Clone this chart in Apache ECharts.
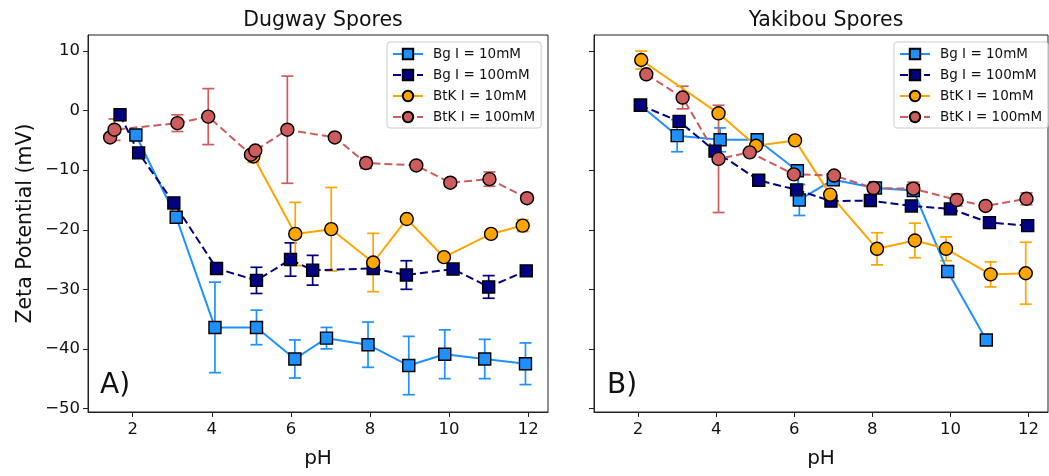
<!DOCTYPE html>
<html>
<head>
<meta charset="utf-8">
<script src="https://cdn.jsdelivr.net/npm/echarts@6/dist/echarts.min.js"></script>
<style>
  html, body { margin: 0; padding: 0; background: #fff; }
  #chart { width: 1049px; height: 476px; }
</style>
</head>
<body>
<div id="chart"></div>
<script>
  // Dugway spores (panel A)
  const pHBg10A = [2.08, 3.1, 4.08, 5.13, 6.1, 6.9, 7.95, 8.98, 9.89, 10.9, 11.93]
  const zetaBg10A = [-4.1, -17.9, -36.4, -36.4, -41.7, -38.2, -39.3, -42.8, -40.9, -41.7, -42.5]
  const errBg10A = [0.5, 0.5, 7.6, 2.9, 3.2, 1.8, 3.8, 4.9, 4.1, 3.3, 3.5]

  const pHBg100A = [1.68, 2.15, 3.04, 4.12, 5.13, 5.99, 6.55, 8.08, 8.92, 10.1, 11.0, 11.95]
  const zetaBg100A = [-0.7, -7.1, -15.5, -26.5, -28.5, -25.0, -26.8, -26.5, -27.6, -26.6, -29.6, -26.9]
  const errBg100A = [0.3, 0.5, 0.5, 0.6, 2.2, 2.8, 2.5, 0.8, 2.4, 0.5, 1.9, 0.6]

  const pHBtk10A = [5.05, 6.11, 7.02, 8.08, 8.93, 9.87, 11.06, 11.86]
  const zetaBtk10A = [-7.7, -20.7, -19.9, -25.5, -18.2, -24.6, -20.7, -19.3]
  const errBtk10A = [1.0, 5.3, 7.0, 4.9, 0.5, 0.5, 0.5, 1.0]

  const pHBtk100A = [1.43, 1.54, 3.13, 3.91, 4.99, 5.1, 5.91, 7.11, 7.9, 9.17, 10.03, 11.02, 11.97]
  const zetaBtk100A = [-4.5, -3.2, -2.1, -1.0, -7.4, -6.7, -3.2, -4.5, -8.8, -9.2, -12.1, -11.5, -14.7]
  const errBtk100A = [0.5, 1.8, 1.4, 4.7, 0.5, 0.5, 9.0, 0.5, 0.9, 0.5, 0.6, 1.2, 0.6]

  // Yakibou spores (panel B)
  const pHBg10B = [2.06, 3.0, 4.1, 5.05, 6.08, 6.13, 7.0, 8.08, 9.05, 9.93, 10.92]
  const zetaBg10B = [0.9, -4.2, -4.9, -4.9, -10.1, -15.0, -11.6, -13.0, -13.4, -27.0, -38.5]
  const errBg10B = [0.3, 2.7, 2.0, 1.0, 0.5, 2.6, 0.5, 0.5, 0.5, 0.3, 0.3]

  const pHBg100B = [2.06, 3.05, 3.97, 5.09, 6.06, 6.94, 7.95, 9.0, 10.0, 11.0, 11.98]
  const zetaBg100B = [0.9, -1.8, -6.8, -11.7, -13.3, -15.2, -15.1, -16.0, -16.5, -18.8, -19.3]
  const errBg100B = [0.3, 0.4, 0.4, 0.4, 0.4, 0.4, 0.4, 0.4, 0.4, 0.4, 0.4]

  const pHBtk10B = [2.08, 4.06, 5.02, 6.02, 6.92, 8.12, 9.09, 9.89, 11.03, 11.93]
  const zetaBtk10B = [8.5, -0.45, -5.9, -5.0, -14.1, -23.2, -21.8, -23.2, -27.5, -27.3]
  const errBtk10B = [1.5, 0.6, 0.6, 0.4, 0.6, 2.7, 2.9, 2.0, 2.1, 5.2]

  const pHBtk100B = [2.21, 3.14, 4.06, 4.86, 5.99, 7.02, 8.03, 9.05, 10.16, 10.9, 11.95]
  const zetaBtk100B = [6.1, 2.2, -8.1, -7.0, -10.7, -10.9, -13.0, -13.1, -15.0, -16.0, -14.8]
  const errBtk100B = [0.4, 1.9, 9.0, 0.5, 0.5, 0.5, 0.6, 1.1, 1.0, 0.5, 1.0]

  const xTicks = [2, 4, 6, 8, 10, 12]
  const yTicks = [-50, -40, -30, -20, -10, 0, 10]
  const seriesNames = ['Bg I = 10mM', 'Bg I = 100mM', 'BtK I = 10mM', 'BtK I = 100mM']

  const font = 'DejaVu Sans'
  const colors = ['#1E90FF', '#000080', '#FFA500', '#CD5C5C']
  const symbols = ['rect', 'rect', 'circle', 'circle']
  const dashed = [false, true, false, true]

  function errorSeries(idx, gi, xs, ys, es) {
    return {
      type: 'custom',
      name: seriesNames[idx] + ' err' + gi,
      xAxisIndex: gi,
      yAxisIndex: gi,
      silent: true,
      data: xs.map((x, i) => [x, ys[i] - es[i], ys[i] + es[i]]),
      encode: {x: 0, y: [1, 2]},
      renderItem: function(params, api) {
        let lo = api.coord([api.value(0), api.value(1)])
        let hi = api.coord([api.value(0), api.value(2)])
        let w = 6
        let style = {stroke: colors[idx], lineWidth: 1.7}
        return {
          type: 'group',
          children: [
            {type: 'line', shape: {x1: lo[0], y1: lo[1], x2: hi[0], y2: hi[1]}, style: style},
            {type: 'line', shape: {x1: lo[0] - w, y1: lo[1], x2: lo[0] + w, y2: lo[1]}, style: style},
            {type: 'line', shape: {x1: hi[0] - w, y1: hi[1], x2: hi[0] + w, y2: hi[1]}, style: style}
          ]
        }
      }
    }
  }

  function lineSeries(idx, gi, xs, ys) {
    return {
      type: 'line',
      name: seriesNames[idx],
      xAxisIndex: gi,
      yAxisIndex: gi,
      data: xs.map((x, i) => [x, ys[i]]),
      symbol: symbols[idx],
      symbolSize: symbols[idx] === 'rect' ? 12 : 13,
      showSymbol: true,
      animation: false,
      lineStyle: {color: colors[idx], width: 2, type: dashed[idx] ? [8, 4] : 'solid'},
      itemStyle: {color: colors[idx], borderColor: '#000', borderWidth: 1.4},
      emphasis: {disabled: true}
    }
  }

  const panels = [
    [[pHBg10A, zetaBg10A, errBg10A], [pHBg100A, zetaBg100A, errBg100A],
     [pHBtk10A, zetaBtk10A, errBtk10A], [pHBtk100A, zetaBtk100A, errBtk100A]],
    [[pHBg10B, zetaBg10B, errBg10B], [pHBg100B, zetaBg100B, errBg100B],
     [pHBtk10B, zetaBtk10B, errBtk10B], [pHBtk100B, zetaBtk100B, errBtk100B]]
  ]

  let series = []
  panels.forEach((panel, gi) => {
    panel.forEach((d, idx) => {
      series.push(errorSeries(idx, gi, d[0], d[1], d[2]))
      series.push(lineSeries(idx, gi, d[0], d[1]))
    })
  })

  const axisLineStyle = {color: '#222', width: 1}

  function xAxis(gi) {
    return {
      type: 'value',
      gridIndex: gi,
      min: 0.87,
      max: 12.5,
      name: 'pH',
      nameLocation: 'middle',
      nameGap: 37,
      nameTextStyle: {fontFamily: font, fontSize: 20, color: '#111'},
      axisLine: {onZero: false, lineStyle: axisLineStyle},
      axisTick: {show: true, length: 5, customValues: xTicks, lineStyle: axisLineStyle},
      axisLabel: {customValues: xTicks, fontFamily: font, fontSize: 16.5, color: '#111', margin: 9},
      splitLine: {show: false}
    }
  }

  function yAxis(gi) {
    return {
      type: 'value',
      gridIndex: gi,
      min: -50.6,
      max: 12.7,
      name: gi === 0 ? 'Zeta Potential (mV)' : '',
      nameLocation: 'middle',
      nameGap: 52,
      nameTextStyle: {fontFamily: font, fontSize: 20.5, color: '#111'},
      axisLine: {show: true, onZero: false, lineStyle: axisLineStyle},
      axisTick: {show: true, length: 5, customValues: yTicks, lineStyle: axisLineStyle},
      axisLabel: {show: gi === 0, customValues: yTicks, fontFamily: font, fontSize: 16.5, color: '#111', margin: 8,
        formatter: v => (v < 0 ? '\u2212' + Math.abs(v) : '' + v)},
      splitLine: {show: false}
    }
  }

  function legend(left) {
    return {
      data: seriesNames,
      left: left,
      top: 42,
      orient: 'vertical',
      itemWidth: 30,
      itemHeight: 13,
      itemGap: 7,
      padding: [5, 6, 4, 5],
      backgroundColor: 'rgba(255,255,255,0.8)',
      borderColor: '#ccc',
      borderWidth: 1,
      borderRadius: 3,
      selectedMode: false,
      textStyle: {fontFamily: font, fontSize: 13.5, color: '#111', padding: [0, 0, 0, 5]}
    }
  }

  let chart = echarts.init(document.getElementById('chart'))
  let option = {
    animation: false,
    backgroundColor: '#fff',
    title: [
      {text: 'Dugway Spores', left: 318, top: 5, textAlign: 'center',
        textStyle: {fontFamily: font, fontSize: 20.5, fontWeight: 'normal', color: '#111'}},
      {text: 'Yakibou Spores', left: 821, top: 5, textAlign: 'center',
        textStyle: {fontFamily: font, fontSize: 20.5, fontWeight: 'normal', color: '#111'}}
    ],
    legend: [legend(387), legend(894)],
    grid: [
      {left: 88, top: 35, width: 460, height: 377, show: true, borderColor: '#222', borderWidth: 1},
      {left: 594, top: 35, width: 454, height: 377, show: true, borderColor: '#222', borderWidth: 1}
    ],
    xAxis: [xAxis(0), xAxis(1)],
    yAxis: [yAxis(0), yAxis(1)],
    graphic: [
      {type: 'text', left: 100, top: 372, style: {text: 'A)', fontFamily: font, fontSize: 28, fill: '#111'}},
      {type: 'text', left: 607, top: 372, style: {text: 'B)', fontFamily: font, fontSize: 28, fill: '#111'}}
    ],
    series: series
  }
  chart.setOption(option)
</script>
</body>
</html>
